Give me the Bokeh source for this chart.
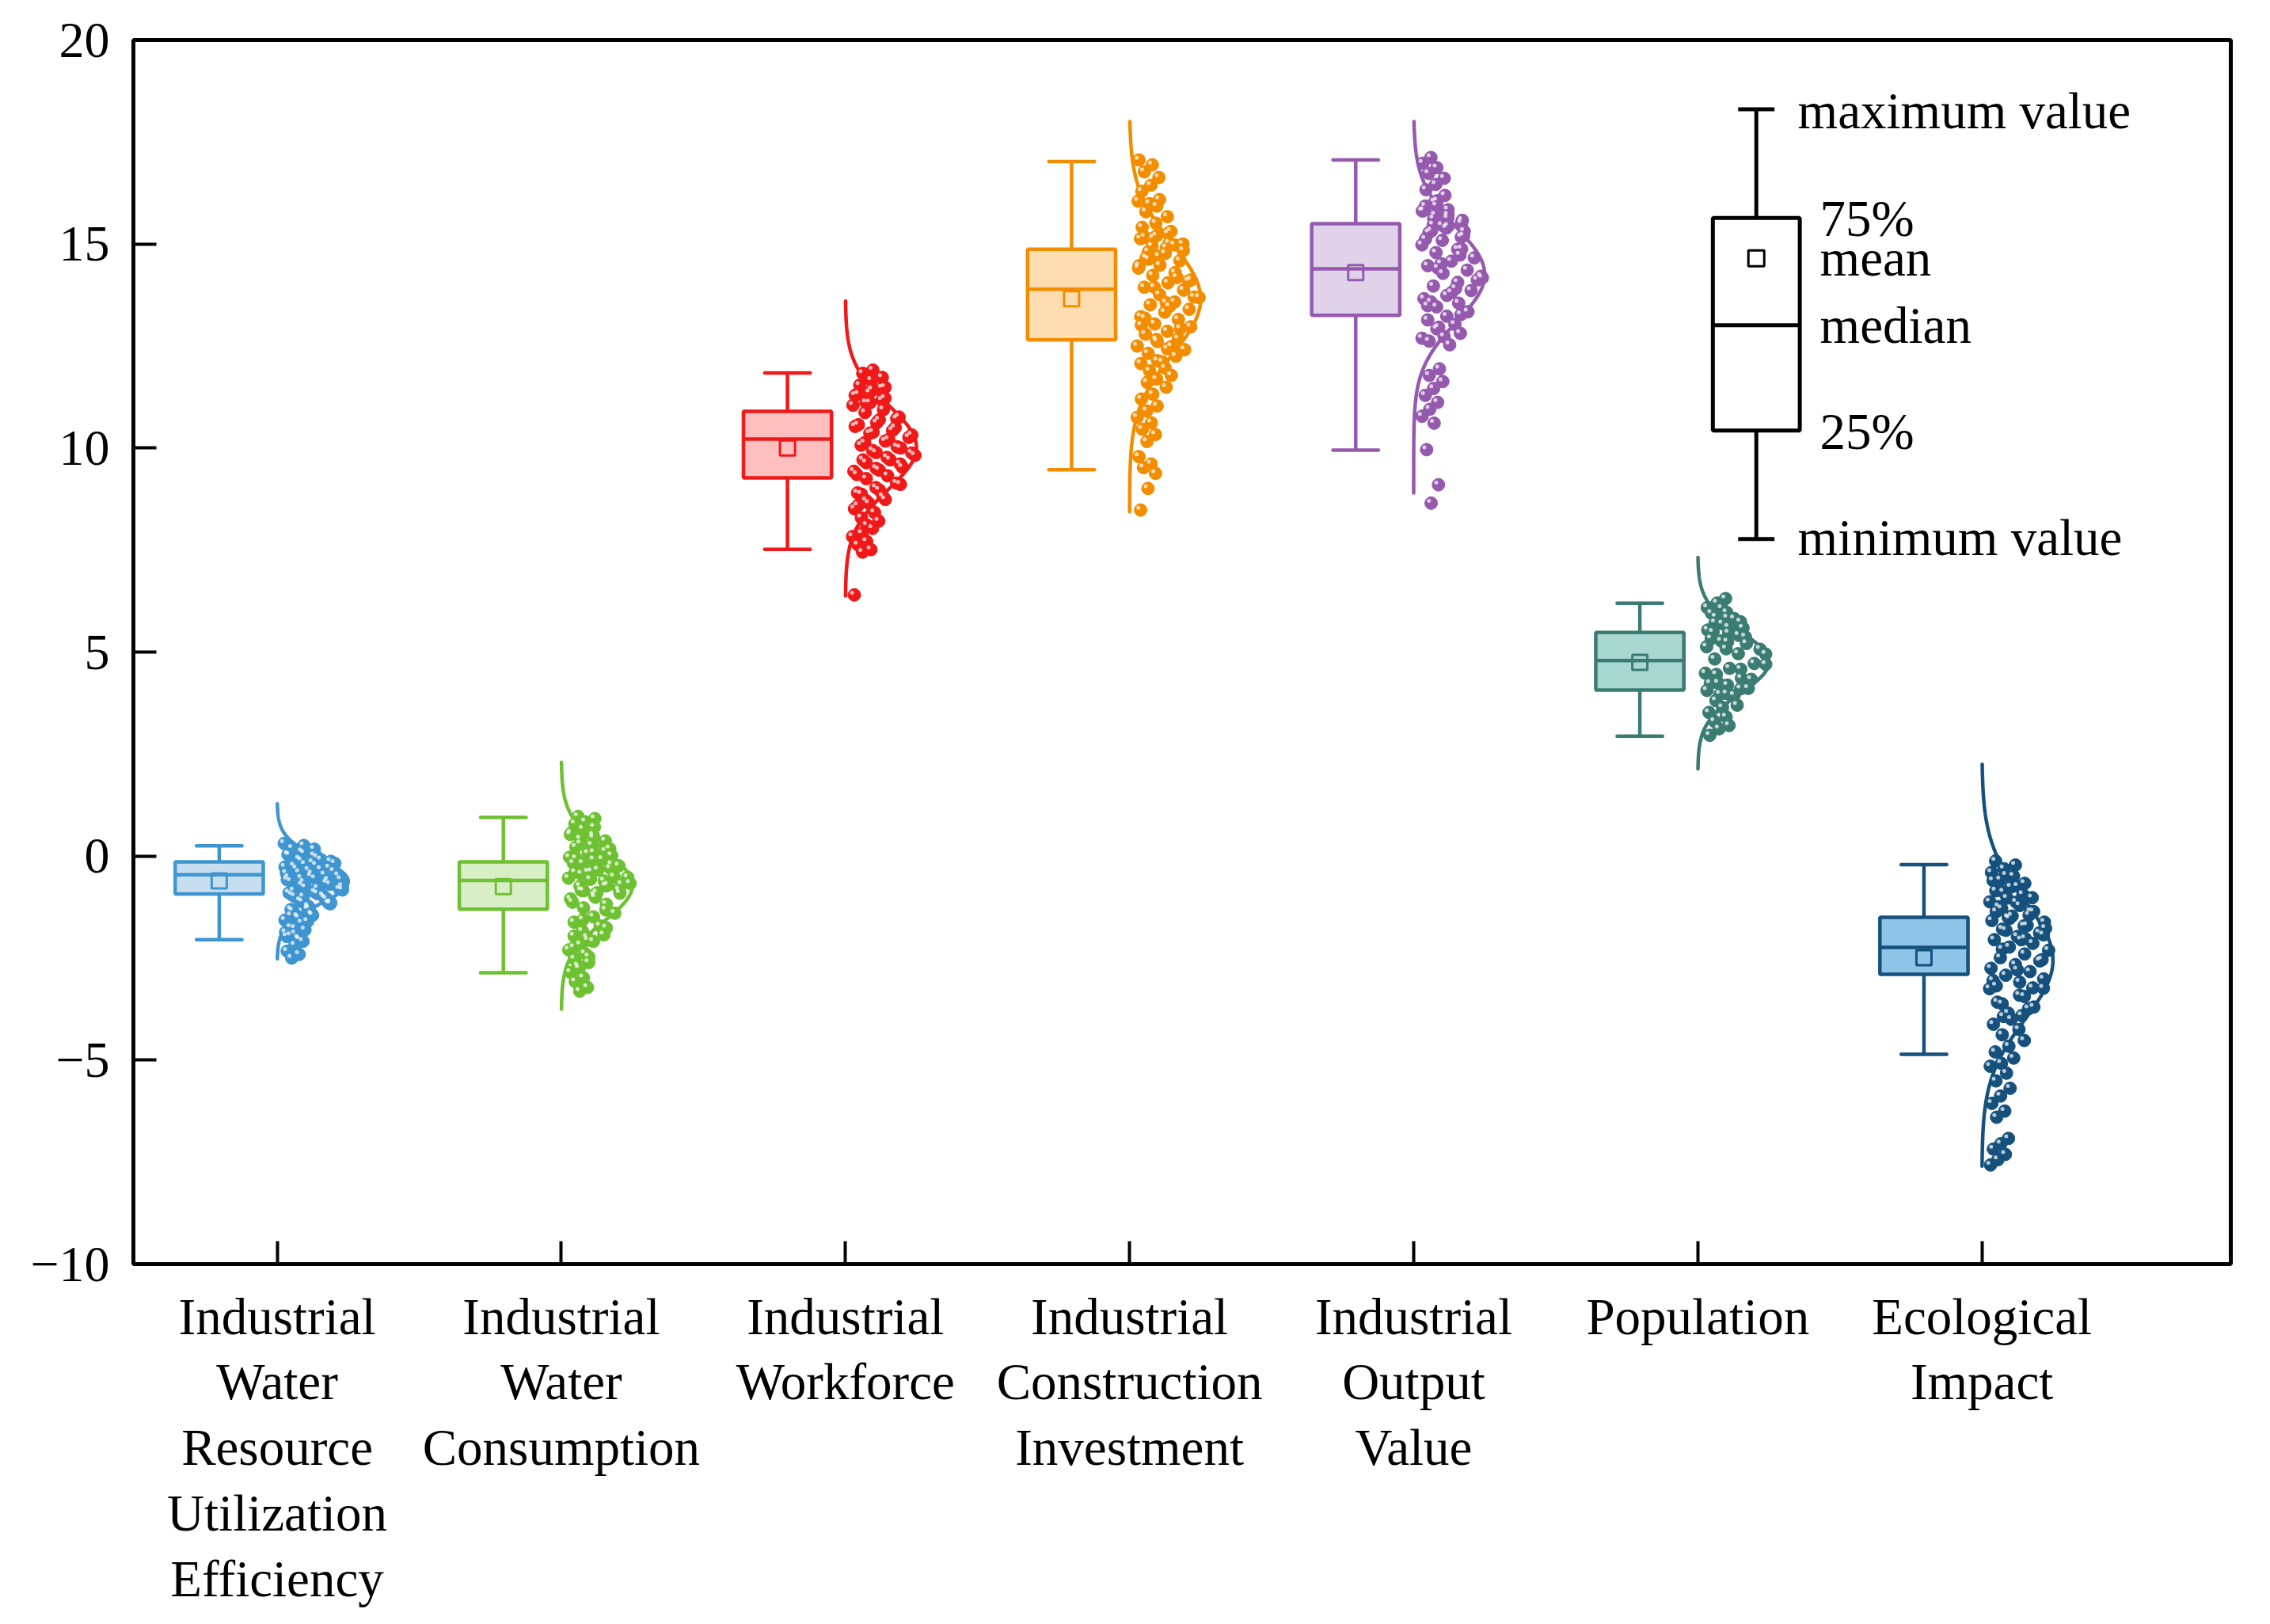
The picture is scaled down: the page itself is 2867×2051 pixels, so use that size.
import numpy as np
from bokeh.plotting import figure
from bokeh.models import Range1d, FixedTicker
from bokeh.embed import file_html
from bokeh.resources import INLINE
from bokeh.core.properties import value

FONT = "Liberation Serif"

categories = [
    "Industrial\nWater\nResource\nUtilization\nEfficiency",
    "Industrial\nWater\nConsumption",
    "Industrial\nWorkforce",
    "Industrial\nConstruction\nInvestment",
    "Industrial\nOutput\nValue",
    "Population",
    "Ecological\nImpact",
]

y_ticks = [-10, -5, 0, 5, 10, 15, 20]
y_tick_labels = ["\u221210", "\u22125", "0", "5", "10", "15", "20"]

# box statistics
box_max = [0.25, 0.95, 11.84, 17.02, 17.06, 6.20, -0.21]
box_q3 = [-0.14, -0.14, 10.90, 14.87, 15.50, 5.48, -1.50]
box_median = [-0.46, -0.60, 10.22, 13.89, 14.39, 4.79, -2.24]
box_mean = [-0.61, -0.75, 10.00, 13.66, 14.30, 4.75, -2.49]
box_q1 = [-0.93, -1.30, 9.27, 12.65, 13.25, 4.07, -2.90]
box_min = [-2.05, -2.86, 7.52, 9.47, 9.95, 2.94, -4.86]

# normal-curve parameters
curve_mu = [-0.62, -0.72, 10.02, 13.65, 14.25, 4.75, -2.55]
curve_sd = [0.55, 0.87, 1.03, 1.35, 1.15, 0.75, 1.45]
curve_lo = [-2.52, -3.75, 6.38, 8.44, 8.90, 2.14, -7.60]
curve_hi = [1.28, 2.30, 13.60, 18.00, 18.00, 7.32, 2.25]

# individual observations
water_eff_pts = [0.31, 0.26, 0.19, 0.17, 0.11, 0.04, 0.01, -0.07, -0.13, -0.16, -0.24, -0.29, -0.35, -0.42, -0.46, -0.54, -0.57,
                 0.07, 0.02, -0.03, -0.11, -0.18, -0.22, -0.31, -0.37, -0.43, -0.52, -0.59, -0.64, -0.74, -0.79, -0.85,
                 -0.09, -0.20, -0.27, -0.33, -0.40, -0.48, -0.55, -0.62, -0.69, -0.77, -0.83, -0.92, -0.99, -1.05,
                 -0.50, -0.58, -0.66, -0.71, -0.81, -0.88, -0.95, -1.02, -1.12, -1.17, -1.28, -1.34, -1.45, -1.51,
                 -0.90, -0.97, -1.09, -1.15, -1.23, -1.31, -1.42, -1.48, -1.57, -1.64, -1.75, -1.81, -1.90, -1.97, -2.04,
                 -1.00, -1.14, -1.30, -1.46, -1.60, -1.77, -1.87, -2.01,
                 -1.95, -2.09, -2.18, -2.33, -2.41, -2.50]
water_cons_pts = [0.97, 0.92, 0.84, 0.79, 0.71, 0.66, 0.56, 0.51, 0.42, 0.37, 0.27, 0.22, 0.12, 0.07, -0.03, -0.08, -0.18,
                  -0.24, -0.34, -0.40, -0.51, -0.57, -0.67, -0.73, -0.84, -0.91, -1.01,
                  0.53, 0.45, 0.30, 0.18, 0.09, -0.06, -0.20, -0.38, -0.54, -0.71, -0.85,
                  0.01, -0.09, -0.18, -0.30, -0.39, -0.52, -0.61, -0.74, -0.83, -0.96, -1.05, -1.18, -1.27, -1.40, -1.49,
                  -1.62, -1.71, -1.84, -1.93, -2.06,
                  -0.44, -0.69, -0.90, -1.13, -1.32, -1.56, -1.76, -1.99,
                  -1.96, -2.09, -2.17, -2.30, -2.39, -2.52, -2.61, -2.75, -2.85, -2.98, -3.08, -3.22, -3.31,
                  -2.24, -2.47, -2.69]
workforce_pts = [11.91, 11.83, 11.73, 11.66, 11.54, 11.47, 11.36, 11.29, 11.17, 11.11,
                 11.49, 11.43, 11.32, 11.22, 11.11, 11.05, 10.94, 10.87, 10.76, 10.69, 10.57, 10.50, 10.39, 10.32, 10.21, 10.13,
                 10.72, 10.62, 10.53, 10.43, 10.36, 10.26, 10.17, 10.07, 10.00, 9.89, 9.82, 9.71, 9.64, 9.53, 9.46, 9.35,
                 10.03, 9.94, 9.88, 9.77, 9.71,
                 9.61, 9.50, 9.43, 9.32, 9.25, 9.14,
                 9.03, 8.90, 8.81, 8.71,
                 9.11, 8.97, 8.87, 8.74, 8.64, 8.51, 8.42, 8.29, 8.21, 8.11,
                 8.59,
                 8.03, 7.91, 7.83, 7.71, 7.63, 7.51, 7.45,
                 6.40]
construction_pts = [17.06, 16.94, 16.77, 16.63, 16.44, 16.29, 16.09, 15.99,
                    16.05, 15.93, 15.79, 15.67, 15.51, 15.41, 15.26, 15.14, 15.00, 14.91, 14.81,
                    15.31, 15.20, 15.13, 15.02, 14.95, 14.84, 14.77, 14.66, 14.59, 14.48, 14.41, 14.30, 14.23, 14.12,
                    14.05, 13.94, 13.87, 13.76, 13.69, 13.58, 13.51, 13.40, 13.33, 13.22, 13.15, 13.04, 12.97, 12.86,
                    12.79, 12.68, 12.61, 12.50, 12.43, 12.32, 12.25, 12.14, 12.07, 11.96, 11.89, 11.78, 11.69,
                    15.17, 14.98, 14.70, 14.47, 14.18, 13.94, 13.70, 13.47, 13.18, 12.93, 12.66, 12.41, 12.11,
                    14.63, 14.09, 13.56, 13.01, 12.49,
                    11.61, 11.49, 11.32, 11.20, 11.03, 10.91, 10.75, 10.62, 10.46, 10.33, 10.16,
                    9.79, 9.61, 9.52, 9.38,
                    9.01,
                    8.48]
output_pts = [17.12, 16.98, 16.87, 16.73, 16.61, 16.46, 16.33, 16.19, 16.03,
              15.81, 15.63, 15.47, 15.31,
              16.06, 15.93, 15.84, 15.71, 15.58, 15.44, 15.32, 15.20,
              15.94, 15.82, 15.71, 15.62, 15.51, 15.39, 15.28, 15.17, 15.09, 14.98, 14.87, 14.79, 14.66, 14.58,
              14.47, 14.36, 14.28, 14.17, 14.06, 13.97, 13.86, 13.74, 13.66, 13.55, 13.46, 13.34, 13.23, 13.14,
              13.03, 12.92, 12.81, 12.73, 12.62, 12.53,
              15.46, 15.12, 14.88, 14.52, 14.21, 13.91, 13.58, 13.27, 12.96, 12.69,
              14.73, 14.41, 14.12, 13.81, 13.49,
              11.94, 11.78, 11.63, 11.46, 11.29, 11.12, 10.95, 10.78, 10.61,
              9.96, 9.10, 8.65]
population_pts = [6.31, 6.20, 6.09, 5.97, 5.86, 5.74, 5.61, 5.49, 5.37, 5.25, 5.13,
                  5.84, 5.72, 5.59, 5.47, 5.33, 5.21, 5.08, 4.95,
                  6.07, 5.95, 5.82, 5.69, 5.54, 5.41, 5.27,
                  5.07, 4.96, 4.83, 4.72, 4.60, 4.48, 4.36, 4.24, 4.11, 3.98,
                  4.23, 4.10, 3.97,
                  4.70, 4.58, 4.45, 4.33, 4.19, 4.06, 3.94, 3.81, 3.70,
                  3.64, 3.52, 3.41, 3.30, 3.20, 3.12,
                  2.96]
ecological_pts = [-0.12, -0.22, -0.31, -0.40, -0.49, -0.58, -0.67, -0.76, -0.85, -0.94, -1.03, -1.12, -1.21, -1.29, -1.36,
                  -0.47, -0.60, -0.74, -0.88,
                  -1.02, -1.13, -1.24, -1.36, -1.47, -1.58, -1.70, -1.82, -1.93, -2.05,
                  -1.36, -1.45, -1.53, -1.62, -1.71, -1.79, -1.88, -1.97, -2.05, -2.14, -2.23, -2.31, -2.40, -2.49,
                  -2.57, -2.66, -2.75, -2.83, -2.92, -3.01, -3.09, -3.18, -3.23,
                  -1.50, -1.77, -2.02, -2.28, -2.54, -2.79, -3.05,
                  -3.91, -3.93,
                  -3.24, -3.41, -3.58, -3.74, -3.85,
                  -3.25, -3.44, -3.62, -3.70,
                  -4.00, -4.12, -4.25, -4.38, -4.52, -4.66, -4.80, -4.95, -5.08,
                  -5.15, -5.32, -5.51, -5.69, -5.88, -6.06, -6.25, -6.40,
                  -6.92, -7.05, -7.18, -7.31, -7.44, -7.57]

all_points = [water_eff_pts, water_cons_pts, workforce_pts, construction_pts,
              output_pts, population_pts, ecological_pts]

line_colors = ["#3F95D0", "#6EC132", "#F01919", "#F38D00", "#955AAE", "#3B7C72", "#16517D"]
fill_colors = ["#C7DDF0", "#D8EEC6", "#FFBFBF", "#FDDDB0", "#E0D2E9", "#A8D8D0", "#8EC4E8"]

# ---------------------------------------------------------------- figure
p = figure(width=2850, height=2035,
           x_range=Range1d(0.494, 7.876), y_range=Range1d(-10, 20),
           output_backend="svg", toolbar_location=None,
           min_border_left=168, min_border_right=33, min_border_top=50,
           min_border_bottom=439)
p.xgrid.visible = False
p.ygrid.visible = False
p.outline_line_color = "black"
p.outline_line_width = 5
p.outline_line_alpha = 1.0
p.background_fill_color = "white"
p.border_fill_color = "white"

for ax in (p.xaxis[0], p.yaxis[0]):
    ax.axis_line_width = 5
    ax.axis_line_color = "black"
    ax.major_tick_in = 29
    ax.major_tick_out = 0
    ax.major_tick_line_width = 4
    ax.major_tick_line_color = "black"
    ax.minor_tick_line_color = None
    ax.major_label_text_font = FONT
    ax.major_label_text_color = "black"

p.yaxis.ticker = FixedTicker(ticks=y_ticks)
p.yaxis.major_label_overrides = {t: s for t, s in zip(y_ticks, y_tick_labels)}
p.yaxis.major_label_text_font_size = "64px"
p.yaxis.major_label_standoff = 30

x_pos = list(range(1, len(categories) + 1))
p.xaxis.ticker = FixedTicker(ticks=x_pos)
p.xaxis.major_label_overrides = {t: s for t, s in zip(x_pos, categories)}
p.xaxis.major_label_text_font_size = "65px"
p.xaxis.major_label_text_line_height = 1.15
p.xaxis.major_label_standoff = 30

BOX_SHIFT = -0.204
BOX_HALF = 0.155
CAP_HALF = 0.08
CURVE_W = 0.25
LW = 4.5

# ---------------------------------------------------------------- series
for i, xc in enumerate(x_pos):
    lc = line_colors[i]
    fc = fill_colors[i]
    bx = xc + BOX_SHIFT
    # whiskers
    p.segment(x0=[bx, bx], y0=[box_min[i], box_q3[i]], x1=[bx, bx], y1=[box_q1[i], box_max[i]],
              line_color=lc, line_width=LW)
    p.segment(x0=[bx - CAP_HALF] * 2, y0=[box_min[i], box_max[i]],
              x1=[bx + CAP_HALF] * 2, y1=[box_min[i], box_max[i]],
              line_color=lc, line_width=LW, line_cap="round")
    # box
    p.quad(left=[bx - BOX_HALF], right=[bx + BOX_HALF], bottom=[box_q1[i]], top=[box_q3[i]],
           fill_color=fc, line_color=lc, line_width=LW)
    p.segment(x0=[bx - BOX_HALF], y0=[box_median[i]], x1=[bx + BOX_HALF], y1=[box_median[i]],
              line_color=lc, line_width=LW)
    p.scatter(x=[bx], y=[box_mean[i]], marker="square", size=19,
              fill_alpha=0, line_color=lc, line_width=3)

    # fitted normal curve
    ys = np.linspace(curve_lo[i], curve_hi[i], 300)
    dens = np.exp(-0.5 * ((ys - curve_mu[i]) / curve_sd[i]) ** 2)
    p.line(x=xc + CURVE_W * dens, y=ys, line_color=lc, line_width=LW, line_cap="round")

    # jittered observations
    pts = np.array(all_points[i], dtype=float)
    k = np.arange(len(pts))
    u = (k * 0.6180339887 + i * 0.37) % 1.0
    g = np.exp(-0.5 * ((pts - curve_mu[i]) / curve_sd[i]) ** 2)
    px = xc + 0.025 + 0.225 * u * (0.3 + 0.7 * g)
    p.scatter(x=px, y=pts, size=16, fill_color=lc, line_color=lc, line_width=1)
    p.scatter(x=px - 0.008, y=pts + 0.055, size=5, fill_color="white", fill_alpha=0.7,
              line_color=None)

# ---------------------------------------------------------------- key (legend)
kx = 6.206
k_max, k_q3, k_med, k_q1, k_min, k_mean = 18.3, 15.64, 13.01, 10.43, 7.77, 14.65
p.segment(x0=[kx, kx], y0=[k_min, k_q3], x1=[kx, kx], y1=[k_q1, k_max], line_color="black", line_width=5)
p.segment(x0=[kx - 0.064] * 2, y0=[k_min, k_max], x1=[kx + 0.064] * 2, y1=[k_min, k_max],
          line_color="black", line_width=5)
p.quad(left=[kx - 0.153], right=[kx + 0.153], bottom=[k_q1], top=[k_q3],
       fill_color="white", line_color="black", line_width=5)
p.segment(x0=[kx - 0.153], y0=[k_med], x1=[kx + 0.153], y1=[k_med], line_color="black", line_width=5)
p.scatter(x=[kx], y=[k_mean], marker="square", size=20, fill_alpha=0, line_color="black", line_width=3)

key_text = ["maximum value", "75%", "mean", "median", "25%", "minimum value"]
key_tx = [6.352, 6.43, 6.43, 6.43, 6.43, 6.352]
key_ty = [18.27, 15.62, 14.66, 13.01, 10.41, 7.80]
p.text(x=key_tx, y=key_ty, text=key_text, text_font=value(FONT), text_font_size="65px",
       text_color="black", text_align="left", text_baseline="alphabetic")

open("out.html", "w").write(file_html(p, INLINE))
